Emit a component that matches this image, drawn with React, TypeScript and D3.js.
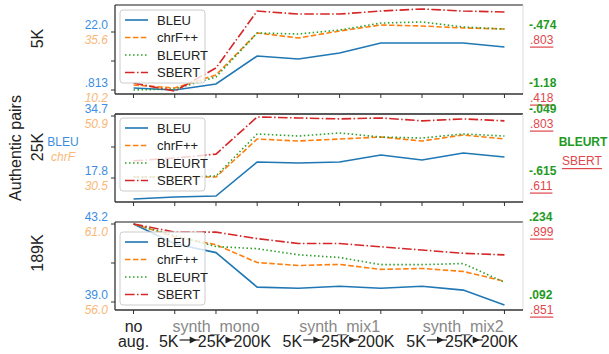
import React from 'react';
import * as d3 from 'd3';

// x categories
const steps = d3.range(10);
const groupNames = ['synth_mono', 'synth_mix1', 'synth_mix2'];
const groupCenters = [2, 5, 8];
const sizeLabels = ['5K', '25K', '200K'];
const rowLabels = ['5K', '25K', '189K'];
const metrics = ['BLEU', 'chrF++', 'BLEURT', 'SBERT'];

// 5K authentic pairs
const bleu5K = [1.54, 0.81, 3.0, 13.23, 12.14, 14.33, 17.98, 17.98, 17.98, 16.52];
const chrf5K = [12.39, 11.08, 16.77, 35.17, 32.98, 36.04, 38.67, 38.23, 37.36, 36.92];
const bleurt5K = [-1.18, -1.168, -1.022, -0.486, -0.498, -0.45, -0.365, -0.352, -0.413, -0.438];
const sbert5K = [0.464, 0.411, 0.564, 0.942, 0.922, 0.922, 0.942, 0.956, 0.942, 0.936];

// 25K authentic pairs
const bleu25K = [12.08, 12.62, 12.89, 22.16, 21.89, 22.16, 24.07, 22.71, 24.62, 23.52];
const chrf25K = [30.83, 30.83, 30.83, 43.33, 42.67, 43.33, 43.99, 42.67, 44.65, 43.33];
const bleurt25K = [-0.606, -0.606, -0.597, -0.213, -0.232, -0.204, -0.241, -0.25, -0.213, -0.232];
const sbert25K = [0.664, 0.673, 0.685, 0.8, 0.797, 0.794, 0.797, 0.788, 0.794, 0.788];

// 189K authentic pairs
const bleu189K = [43.2, 42.14, 41.66, 39.8, 39.74, 39.85, 39.74, 39.85, 39.64, 38.84];
const chrf189K = [61.0, 60.18, 59.67, 58.53, 58.34, 58.41, 58.09, 58.15, 57.96, 57.33];
const bleurt189K = [0.234, 0.213, 0.193, 0.189, 0.178, 0.173, 0.16, 0.16, 0.162, 0.128];
const sbert189K = [0.899, 0.894, 0.894, 0.89, 0.887, 0.887, 0.885, 0.883, 0.881, 0.88];

// axis end labels [bottom, top] per panel
const bleuTicks = [['.813', '22.0'], ['17.8', '34.7'], ['39.0', '43.2']];
const chrfTicks = [['10.2', '35.6'], ['30.5', '50.9'], ['56.0', '61.0']];
const bleurtTicks = [['-1.18', '-.474'], ['-.615', '-.049'], ['.092', '.234']];
const sbertTicks = [['.418', '.803'], ['.611', '.803'], ['.851', '.899']];

const bleuDomains = [[0.813, 22.0], [17.8, 34.7], [39.0, 43.2]];
const chrfDomains = [[10.2, 35.6], [30.5, 50.9], [56.0, 61.0]];
const bleurtDomains = [[-1.18, -0.474], [-0.615, -0.049], [0.092, 0.234]];
const sbertDomains = [[0.418, 0.803], [0.611, 0.803], [0.851, 0.899]];

const seriesByPanel = [
  [bleu5K, chrf5K, bleurt5K, sbert5K],
  [bleu25K, chrf25K, bleurt25K, sbert25K],
  [bleu189K, chrf189K, bleurt189K, sbert189K],
];
const domainsByMetric = [bleuDomains, chrfDomains, bleurtDomains, sbertDomains];

const W = 609;
const H = 354;
const FONT = '"Liberation Sans", Arial, sans-serif';
const colors = ['#1f77b4', '#ff7f0e', '#2ca02c', '#d62728'];
const dashes = ['none', '5.5 2.4', '1.5 2.5', '9.6 2.4 1.5 2.4'];

// panel frames and tick rows (pixels)
const panels = [
  { top: 5, bottom: 94, yBot: 90, yTop: 32, legendTop: 10 },
  { top: 114, bottom: 202, yBot: 178, yTop: 116, legendTop: 118 },
  { top: 222, bottom: 310, yBot: 302, yTop: 224, legendTop: 232 },
];
const left = 115;
const right = 523;

const x = d3.scaleLinear().domain([-0.45, 9.45]).range([left, right]);

export default function App() {
  return (
    <svg width={W} height={H} style={{ position: 'absolute', left: 0, top: 0, background: '#fff' }}
      fontFamily={FONT}>
      <text transform={`translate(21,148) rotate(-90)`} textAnchor="middle" fontSize={16} fill="#222">
        Authentic pairs
      </text>
      {panels.map((p, pi) => {
        const lineGen = (mi: number) => {
          const y = d3.scaleLinear().domain(domainsByMetric[mi][pi]).range([p.yBot, p.yTop]);
          return d3.line<number>().x((_, i) => x(steps[i])).y(d => y(d))(seriesByPanel[pi][mi]) || '';
        };
        const yMid = (p.yBot + p.yTop) / 2;
        const rowY = (p.top + p.bottom) / 2 - (pi === 0 ? 11 : pi === 1 ? 11 : 13);
        return (
          <g key={pi}>
            <text transform={`translate(43,${rowY}) rotate(-90)`} textAnchor="middle" fontSize={16} fill="#222">
              {rowLabels[pi]}
            </text>
            {/* frame */}
            <line x1={left} x2={right} y1={p.top} y2={p.top} stroke={pi === 1 ? '#222' : '#666'} strokeWidth={1.3} />
            <line x1={right} x2={right} y1={p.top} y2={p.bottom} stroke="#ddd" strokeWidth={1} />
            <line x1={left} x2={left} y1={p.top} y2={p.bottom} stroke="#333" strokeWidth={1.3} />
            <line x1={left} x2={right} y1={p.bottom} y2={p.bottom} stroke="#333" strokeWidth={1.3} />
            {steps.map(s => (
              <line key={s} x1={x(s)} x2={x(s)} y1={p.bottom} y2={p.bottom + 4} stroke="#333" />
            ))}
            {[p.yTop, yMid, p.yBot].map((ty, k) => (
              <line key={k} x1={left - 4} x2={left} y1={ty} y2={ty} stroke="#333" />
            ))}
            {/* series */}
            {metrics.map((m, mi) => (
              <path key={m} d={lineGen(mi)} fill="none" stroke={colors[mi]} strokeWidth={1.6}
                strokeDasharray={dashes[mi]} />
            ))}
            {/* left labels */}
            {[p.yBot, p.yTop].map((ty, k) => (
              <g key={k} fontSize={12}>
                <text x={108} y={ty - 7.5} textAnchor="end" dominantBaseline="central" fill="#3b8de3">
                  {bleuTicks[pi][k]}
                </text>
                <text x={108} y={ty + 7.5} textAnchor="end" dominantBaseline="central" fill="#f9b878"
                  fontStyle="italic">
                  {chrfTicks[pi][k]}
                </text>
                <text x={529} y={ty - 7.5} dominantBaseline="central" fill="#1f9a1f" fontWeight="bold">
                  {bleurtTicks[pi][k]}
                </text>
                <text x={530} y={ty + 7.5} dominantBaseline="central" fill="#e0474c" textDecoration="underline">
                  {sbertTicks[pi][k]}
                </text>
              </g>
            ))}
            {/* legend */}
            <g transform={`translate(120,${p.legendTop})`}>
              <rect x={0} y={0} width={85} height={73} rx={3} fill="#fff" fillOpacity={0.8} stroke="#ccc" />
              {metrics.map((m, mi) => (
                <g key={m} transform={`translate(0,${10 + mi * 17.5})`}>
                  <line x1={5} x2={28} y1={0} y2={0} stroke={colors[mi]} strokeWidth={1.6}
                    strokeDasharray={dashes[mi]} />
                  <text x={37} y={0} dominantBaseline="central" fontSize={13} fill="#222">{m}</text>
                </g>
              ))}
            </g>
          </g>
        );
      })}
      {/* middle-panel metric captions */}
      <text x={63} y={142} textAnchor="middle" dominantBaseline="central" fontSize={12} fill="#3b8de3">BLEU</text>
      <text x={63} y={157} textAnchor="middle" dominantBaseline="central" fontSize={12} fill="#f9b878"
        fontStyle="italic">chrF</text>
      <text x={583} y={142} textAnchor="middle" dominantBaseline="central" fontSize={12} fill="#1f9a1f"
        fontWeight="bold">BLEURT</text>
      <text x={582} y={161} textAnchor="middle" dominantBaseline="central" fontSize={12} fill="#e0474c"
        textDecoration="underline">SBERT</text>
      {/* x labels */}
      <g fontSize={16} fill="#222">
        <text x={x(0)} y={326} textAnchor="middle" dominantBaseline="central">no</text>
        <text x={x(0)} y={341} textAnchor="middle" dominantBaseline="central">aug.</text>
        {groupCenters.map((g, gi) => {
          const xs = [x(g - 1) - 6, x(g) - 4, x(g + 1) - 5];
          const widths = [19.6, 28.5, 37.4];
          return (
            <g key={gi}>
              <text x={x(g)} y={326} textAnchor="middle" dominantBaseline="central" fill="#888">
                {groupNames[gi]}
              </text>
              {sizeLabels.map((s, si) => (
                <text key={s} x={xs[si]} y={341} textAnchor="middle" dominantBaseline="central">{s}</text>
              ))}
              {[0, 1].map(k => {
                const x1 = xs[k] + widths[k] / 2 + 1;
                const x2 = xs[k + 1] - widths[k + 1] / 2 + 2;
                const tip = x2 - 3;
                return (
                  <g key={k}>
                    <line x1={x1} x2={x2} y1={340} y2={340} stroke="#222" strokeWidth={1.2} />
                    <path d={`M${tip},340 L${tip - 7},336.5 L${tip - 7},343.5 Z`} fill="#222" />
                  </g>
                );
              })}
            </g>
          );
        })}
      </g>
    </svg>
  );
}
